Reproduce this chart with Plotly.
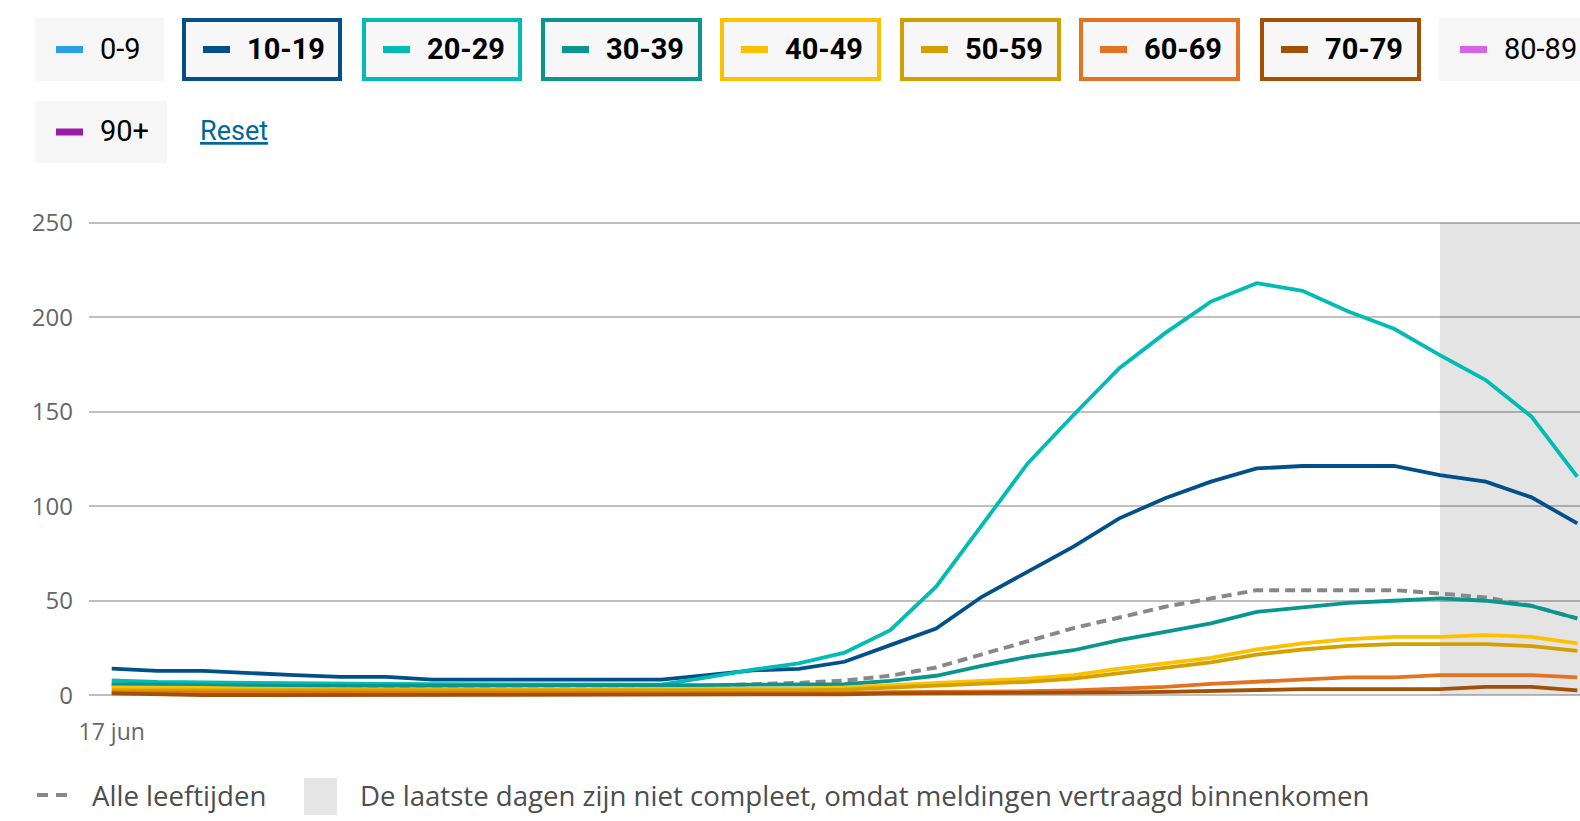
import pandas as pd
import plotly.graph_objects as go

# ---------------- data ----------------
start_date = "2021-06-17"
n_days = 33
dates = pd.date_range(start_date, periods=n_days, freq="D")

age_10_19 = [14.1, 12.9, 12.9, 11.5, 10.6, 9.7, 9.7, 8.3, 8.3, 8.3, 8.3, 8.1, 8.3, 10.6, 13.2, 13.9,
             17.7, 26.5, 35.3, 52.1, 65.3, 78.6, 93.6, 104.2, 113.0, 120.0, 121.3, 121.3, 121.3,
             116.5, 113.0, 104.7, 90.9]
age_20_29 = [7.9, 7.0, 6.8, 6.5, 6.5, 6.2, 6.0, 5.8, 5.8, 5.8, 5.8, 5.6, 5.6, 9.4, 13.6, 16.8,
             22.5, 34.4, 57.4, 90.0, 122.7, 148.3, 173.0, 191.6, 208.3, 218.0, 214.0, 203.0, 193.9,
             180.0, 166.8, 147.4, 115.6]
age_30_39 = [5.8, 5.5, 5.3, 5.0, 4.9, 4.9, 4.9, 4.9, 4.9, 4.9, 4.9, 4.9, 4.9, 5.3, 5.6, 5.8,
             5.8, 7.6, 10.3, 15.5, 20.3, 23.8, 29.1, 33.5, 38.0, 44.1, 46.4, 48.9, 50.0,
             51.2, 50.0, 47.3, 40.6]
age_40_49 = [4.1, 4.1, 3.9, 3.5, 3.2, 3.0, 3.0, 3.0, 3.0, 3.0, 3.0, 3.0, 3.0, 3.2, 3.3, 3.5,
             4.1, 5.3, 6.2, 7.6, 8.8, 10.6, 14.1, 16.8, 19.8, 24.2, 27.4, 29.7, 30.9,
             30.9, 31.8, 30.9, 27.4]
age_50_59 = [2.6, 2.6, 2.4, 2.3, 2.2, 2.2, 2.2, 2.2, 2.2, 2.2, 2.2, 2.2, 2.2, 2.4, 2.5, 2.6,
             3.0, 4.1, 4.8, 5.8, 7.1, 8.8, 11.8, 14.7, 17.4, 21.5, 24.2, 26.1, 27.0,
             27.0, 27.0, 26.0, 23.5]
age_60_69 = [1.4, 1.3, 1.2, 1.2, 1.2, 1.2, 1.2, 1.2, 1.2, 1.2, 1.2, 1.2, 1.2, 1.2, 1.0, 0.9,
             1.2, 1.6, 1.6, 1.8, 2.1, 2.6, 3.5, 4.4, 6.0, 7.1, 8.3, 9.4, 9.4,
             10.6, 10.6, 10.6, 9.4]
age_70_79 = [1.0, 0.5, 0.0, 0.0, 0.0, 0.0, 0.0, 0.0, 0.0, 0.0, 0.0, 0.0, 0.0, 0.0, 0.0, 0.0,
             0.5, 1.0, 1.0, 1.0, 1.0, 1.0, 1.5, 1.8, 2.3, 2.3, 3.2, 3.2, 3.2,
             3.2, 4.4, 4.4, 2.6]
all_ages = [5.5, 5.3, 5.2, 5.0, 5.0, 5.0, 5.0, 5.0, 5.0, 5.0, 5.0, 5.0, 5.0, 5.0, 5.8, 6.5,
            7.8, 10.3, 14.7, 21.5, 28.8, 35.5, 41.1, 46.8, 51.2, 55.6, 55.6, 55.6, 55.6,
            53.8, 51.7, 47.3, 40.6]

incomplete_from = "2021-07-16"

legend_labels = ["0-9", "10-19", "20-29", "30-39", "40-49", "50-59", "60-69", "70-79", "80-89", "90+"]
legend_selected = [False, True, True, True, True, True, True, True, False, False]
legend_colors = ["#2a9fe6", "#01508a", "#00bcb4", "#0a968f", "#ffc000", "#d3a000",
                 "#e37222", "#a34f04", "#d563e5", "#9b1aa9"]

series = {
    "10-19": age_10_19, "20-29": age_20_29, "30-39": age_30_39, "40-49": age_40_49,
    "50-59": age_50_59, "60-69": age_60_69, "70-79": age_70_79,
}

y_ticks = [0, 50, 100, 150, 200, 250]
x_tick_label = "17 jun"
all_label = "Alle leeftijden"
incomplete_label = "De laatste dagen zijn niet compleet, omdat meldingen vertraagd binnenkomen"
reset_label = "Reset"

# ---------------- layout geometry ----------------
W, H = 1580, 821
ML, MR, MT, MB = 89, 0, 219, 122
PW, PH = W - ML - MR, H - MT - MB
first_px, step_px = 111.7, 45.8


def px(x):
    return (x - ML) / PW


def py(y):
    return (H - MB - y) / PH


color_map = dict(zip(legend_labels, legend_colors))
day0 = pd.Timestamp(start_date)
x_start = day0 - pd.Timedelta(days=(first_px - ML) / step_px)
x_end = day0 + pd.Timedelta(days=(W - MR - first_px) / step_px)

fig = go.Figure()

fig.add_trace(go.Scatter(x=dates, y=all_ages, mode="lines", name=all_label,
                         line=dict(color="#888888", width=4, dash="10px,6px"),
                         hoverinfo="skip", showlegend=False))
for name, vals in series.items():
    fig.add_trace(go.Scatter(x=dates, y=vals, mode="lines", name=name,
                             line=dict(color=color_map[name], width=3.8),
                             showlegend=False))

shapes = []
annotations = []

# shaded incomplete region
shapes.append(dict(type="rect", xref="x", yref="y", x0=incomplete_from, x1=x_end,
                   y0=0, y1=250, fillcolor="#e4e4e4", line=dict(width=0), layer="below"))

# legend buttons (top)
btn_boxes = [(35, 164), (182, 342), (362, 522), (541, 702), (720, 881), (900, 1061),
             (1079, 1240), (1260, 1421), (1439, 1600)]
row1 = (18, 81)
row2 = (101, 163)
boxes = [(b, row1) for b in btn_boxes] + [((35, 167), row2)]
for (lab, sel, col, ((bx0, bx1), (by0, by1))) in zip(legend_labels, legend_selected, legend_colors, boxes):
    if sel:
        shapes.append(dict(type="rect", xref="paper", yref="paper",
                           x0=px(bx0 + 2), x1=px(bx1 - 2), y0=py(by1 - 2), y1=py(by0 + 2),
                           fillcolor="#f7f7f7", line=dict(color=col, width=4)))
    else:
        shapes.append(dict(type="rect", xref="paper", yref="paper",
                           x0=px(bx0), x1=px(bx1), y0=py(by1), y1=py(by0),
                           fillcolor="#f6f6f6", line=dict(width=0)))
    cy = (by0 + by1) / 2
    shapes.append(dict(type="line", xref="paper", yref="paper",
                       x0=px(bx0 + 21), x1=px(bx0 + 48), y0=py(cy), y1=py(cy),
                       line=dict(color=col, width=7)))
    annotations.append(dict(xref="paper", yref="paper", x=px(bx0 + 63), y=py(cy - 1),
                            xanchor="left", yanchor="middle", showarrow=False,
                            text=f"<b>{lab}</b>" if sel else lab,
                            font=dict(family="Roboto", size=29, color="#000000")))

annotations.append(dict(xref="paper", yref="paper", x=px(198), y=py(131),
                        xanchor="left", yanchor="middle", showarrow=False,
                        text=f"<u>{reset_label}</u>",
                        font=dict(family="Roboto", size=27, color="#01689b")))

# bottom legend
by = 795
for (a, b) in [(37, 48), (56, 67)]:
    shapes.append(dict(type="line", xref="paper", yref="paper", x0=px(a), x1=px(b),
                       y0=py(by), y1=py(by), line=dict(color="#888888", width=4)))
annotations.append(dict(xref="paper", yref="paper", x=px(90), y=py(by),
                        xanchor="left", yanchor="middle", showarrow=False, text=all_label,
                        font=dict(family="Open Sans", size=27.6, color="#4d4d4d")))
shapes.append(dict(type="rect", xref="paper", yref="paper", x0=px(304), x1=px(337),
                   y0=py(815), y1=py(778), fillcolor="#e6e6e6", line=dict(width=0)))
annotations.append(dict(xref="paper", yref="paper", x=px(358), y=py(by),
                        xanchor="left", yanchor="middle", showarrow=False, text=incomplete_label,
                        font=dict(family="Open Sans", size=27.6, color="#4d4d4d")))

fig.update_layout(
    width=W, height=H,
    margin=dict(l=ML, r=MR, t=MT, b=MB, pad=0),
    paper_bgcolor="white", plot_bgcolor="white",
    shapes=shapes, annotations=annotations,
    showlegend=False,
    font=dict(family="Open Sans", color="#666666"),
    xaxis=dict(range=[x_start, x_end], showgrid=False, zeroline=False, showline=False,
               tickvals=[day0], ticktext=[x_tick_label], ticks="",
               tickfont=dict(family="Open Sans", size=23, color="#666666"),
               ticklabelstandoff=17, fixedrange=True),
    yaxis=dict(range=[-2, 252], tickvals=y_ticks, showgrid=True, gridcolor="rgba(0,0,0,0.25)",
               gridwidth=2, zeroline=False, showline=False, ticks="",
               tickfont=dict(family="Open Sans", size=24, color="#666666"),
               ticklabelstandoff=15, fixedrange=True),
)

fig.write_html("out.html", config={"displayModeBar": False},
               post_script="document.body.style.margin='0px';document.body.style.overflow='hidden';")
